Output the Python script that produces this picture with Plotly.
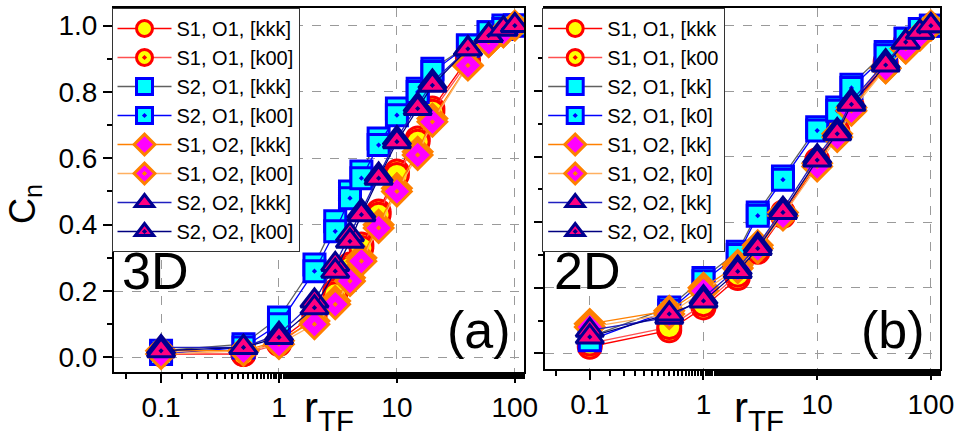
import plotly.graph_objects as go

# ---------------- data ----------------
x3d = [0.1, 0.5, 1, 2, 3, 4, 5, 7, 10, 15, 20, 40, 60, 80, 100]
s1o1_kkk_3d = [0.01, 0.01, 0.05, 0.13, 0.20, 0.28, 0.34, 0.44, 0.56, 0.66, 0.75, 0.90, 0.96, 0.99, 1.0]
s1o1_k00_3d = [0.01, 0.01, 0.04, 0.12, 0.19, 0.27, 0.33, 0.43, 0.55, 0.65, 0.74, 0.89, 0.96, 0.99, 1.0]
s2o1_kkk_3d = [0.02, 0.04, 0.12, 0.28, 0.41, 0.50, 0.56, 0.66, 0.75, 0.81, 0.87, 0.94, 0.98, 1.0, 1.0]
s2o1_k00_3d = [0.01, 0.03, 0.10, 0.26, 0.38, 0.48, 0.54, 0.64, 0.73, 0.80, 0.86, 0.94, 0.98, 0.99, 1.0]
s1o2_kkk_3d = [0.02, 0.02, 0.05, 0.11, 0.17, 0.24, 0.30, 0.40, 0.51, 0.62, 0.72, 0.88, 0.95, 0.98, 1.0]
s1o2_k00_3d = [0.01, 0.02, 0.04, 0.10, 0.16, 0.23, 0.29, 0.39, 0.50, 0.61, 0.71, 0.88, 0.95, 0.98, 1.0]
s2o2_kkk_3d = [0.03, 0.03, 0.07, 0.17, 0.28, 0.37, 0.44, 0.55, 0.66, 0.76, 0.83, 0.93, 0.97, 0.99, 1.0]
s2o2_k00_3d = [0.02, 0.03, 0.06, 0.15, 0.26, 0.35, 0.43, 0.54, 0.65, 0.75, 0.82, 0.93, 0.97, 0.99, 1.0]

x2d = [0.1, 0.5, 1, 2, 3, 5, 10, 15, 20, 40, 60, 80, 100]
s1o1_kkk_2d = [0.02, 0.07, 0.14, 0.23, 0.31, 0.42, 0.58, 0.67, 0.75, 0.88, 0.94, 0.98, 1.0]
s1o1_k00_2d = [0.03, 0.08, 0.15, 0.24, 0.32, 0.43, 0.59, 0.68, 0.76, 0.89, 0.95, 0.98, 1.0]
s2o1_kkk_2d = [0.05, 0.14, 0.23, 0.31, 0.43, 0.54, 0.69, 0.75, 0.82, 0.92, 0.96, 0.99, 1.0]
s2o1_k00_2d = [0.04, 0.13, 0.22, 0.30, 0.42, 0.53, 0.68, 0.74, 0.81, 0.91, 0.96, 0.99, 1.0]
s1o2_kkk_2d = [0.09, 0.13, 0.20, 0.27, 0.33, 0.43, 0.58, 0.67, 0.75, 0.87, 0.93, 0.97, 1.0]
s1o2_k00_2d = [0.08, 0.12, 0.19, 0.26, 0.32, 0.42, 0.57, 0.66, 0.74, 0.87, 0.93, 0.97, 1.0]
s2o2_kkk_2d = [0.07, 0.11, 0.17, 0.26, 0.33, 0.44, 0.60, 0.68, 0.77, 0.89, 0.95, 0.98, 1.0]
s2o2_k00_2d = [0.05, 0.12, 0.16, 0.25, 0.32, 0.43, 0.59, 0.67, 0.76, 0.88, 0.95, 0.98, 1.0]

names_3d = ["S1, O1, [kkk]", "S1, O1, [k00]", "S2, O1, [kkk]", "S2, O1, [k00]",
            "S1, O2, [kkk]", "S1, O2, [k00]", "S2, O2, [kkk]", "S2, O2, [k00]"]
names_2d = ["S1, O1, [kkk", "S1, O1, [k00", "S2, O1, [kk]", "S2, O1, [k0]",
            "S1, O2, [kk]", "S1, O2, [k0]", "S2, O2, [kk]", "S2, O2, [k0]"]

x_ticks = [0.1, 1, 10, 100]
x_tick_text = ["0.1", "1", "10", "100"]
y_ticks = [0.0, 0.2, 0.4, 0.6, 0.8, 1.0]

# ---------------- styles ----------------
styles = [
    dict(symbol="circle", fill="#FFFF00", edge="#FF0000", line="#FF0000"),
    dict(symbol="circle-dot", fill="#FFFF00", edge="#FF0000", line="#FF5050"),
    dict(symbol="square", fill="#00FFFF", edge="#0000FF", line="#606060"),
    dict(symbol="square-dot", fill="#00FFFF", edge="#0000FF", line="#0000FF"),
    dict(symbol="diamond", fill="#FF00FF", edge="#FF8000", line="#FF8000"),
    dict(symbol="diamond-dot", fill="#FF00FF", edge="#FF8000", line="#FFB060"),
    dict(symbol="triangle-up", fill="#FF0080", edge="#000090", line="#2020C0"),
    dict(symbol="triangle-up-dot", fill="#FF0080", edge="#000090", line="#000080"),
]
sizes = [23, 23, 21, 21, 22, 22, 24, 24]

FONT = "Liberation Sans, Arial, sans-serif"

fig = go.Figure()
series_3d = [s1o1_kkk_3d, s1o1_k00_3d, s2o1_kkk_3d, s2o1_k00_3d,
             s1o2_kkk_3d, s1o2_k00_3d, s2o2_kkk_3d, s2o2_k00_3d]
series_2d = [s1o1_kkk_2d, s1o1_k00_2d, s2o1_kkk_2d, s2o1_k00_2d,
             s1o2_kkk_2d, s1o2_k00_2d, s2o2_kkk_2d, s2o2_k00_2d]

for i, (ys, nm) in enumerate(zip(series_3d, names_3d)):
    st = styles[i]
    fig.add_trace(go.Scatter(
        x=x3d, y=ys, name=nm, mode="lines+markers", xaxis="x", yaxis="y",
        line=dict(color=st["line"], width=1.3),
        marker=dict(symbol=st["symbol"], size=sizes[i], color=st["fill"],
                    line=dict(color=st["edge"], width=3)),
        legend="legend"))

for i, (ys, nm) in enumerate(zip(series_2d, names_2d)):
    st = styles[i]
    fig.add_trace(go.Scatter(
        x=x2d, y=ys, name=nm, mode="lines+markers", xaxis="x2", yaxis="y2",
        line=dict(color=st["line"], width=1.3),
        marker=dict(symbol=st["symbol"], size=sizes[i], color=st["fill"],
                    line=dict(color=st["edge"], width=3)),
        legend="legend2"))

L, R, T, B = 113.5, 18, 5.5, 69
W, H = 960, 441
pw = W - L - R
ph = H - T - B

def px_x(p):
    return (p - L) / pw

def px_y(p):
    return (H - B - p) / ph

xcommon = dict(type="log", showline=True, linecolor="black", linewidth=2, mirror=True,
               ticks="outside", ticklen=9, tickwidth=2, tickcolor="black",
               tickvals=x_ticks, ticktext=x_tick_text,
               tickfont=dict(family=FONT, size=28, color="black"),
               showgrid=True, gridcolor="#9a9a9a", griddash="dash", gridwidth=1,
               minor=dict(ticks="outside", ticklen=5, tickwidth=2, tickcolor="black", showgrid=False),
               zeroline=False)
ycommon = dict(showline=True, linecolor="black", linewidth=2, mirror=True,
               ticks="outside", ticklen=9, tickwidth=2, tickcolor="black",
               tickvals=y_ticks, tickformat=".1f",
               tickfont=dict(family=FONT, size=28, color="black"),
               showgrid=True, gridcolor="#9a9a9a", griddash="dash", gridwidth=1,
               minor=dict(ticks="outside", ticklen=5, tickwidth=2, tickcolor="black",
                          dtick=0.1, showgrid=False),
               zeroline=False)

legend_common = dict(xanchor="left", yanchor="top", y=1.0,
                     bgcolor="white", bordercolor="#333333", borderwidth=1,
                     font=dict(family=FONT, size=20, color="black"),
                     itemwidth=54, tracegroupgap=0)

fig.update_layout(
    width=W, height=H,
    margin=dict(l=L, r=R, t=T, b=B),
    paper_bgcolor="white", plot_bgcolor="white",
    xaxis=dict(xcommon, domain=[0, px_x(525)], range=[-1.399, 2.08], anchor="y"),
    yaxis=dict(ycommon, domain=[0, 1], range=[-0.044, 1.053], anchor="x"),
    xaxis2=dict(xcommon, domain=[px_x(546), 1], range=[-1.392, 2.08], anchor="y2"),
    yaxis2=dict(ycommon, domain=[px_y(369), 1], range=[-0.048, 1.054], anchor="x2",
                showticklabels=False),
    legend=dict(legend_common, x=px_x(111)),
    legend2=dict(legend_common, x=px_x(543)),
    showlegend=True,
)

annots = [
    dict(text="C<sub>n</sub>", x=px_x(24), y=px_y(203), textangle=-90, font=dict(size=36)),
    dict(text="r<sub>TF</sub>", x=px_x(329), y=px_y(411), font=dict(size=42)),
    dict(text="r<sub>TF</sub>", x=px_x(760), y=px_y(411), font=dict(size=42)),
    dict(text="3D", x=px_x(155), y=px_y(270), font=dict(size=52)),
    dict(text="2D", x=px_x(588), y=px_y(270), font=dict(size=52)),
    dict(text="(a)", x=px_x(480), y=px_y(330), font=dict(size=52)),
    dict(text="(b)", x=px_x(895), y=px_y(330), font=dict(size=52)),
]
for a in annots:
    a["font"].update(family=FONT, color="black")
    fig.add_annotation(xref="paper", yref="paper", showarrow=False,
                       xanchor="center", yanchor="middle", **a)

fig.write_html("out.html", config={"displayModeBar": False},
               post_script="document.body.style.margin='0';document.body.style.overflow='hidden';")
